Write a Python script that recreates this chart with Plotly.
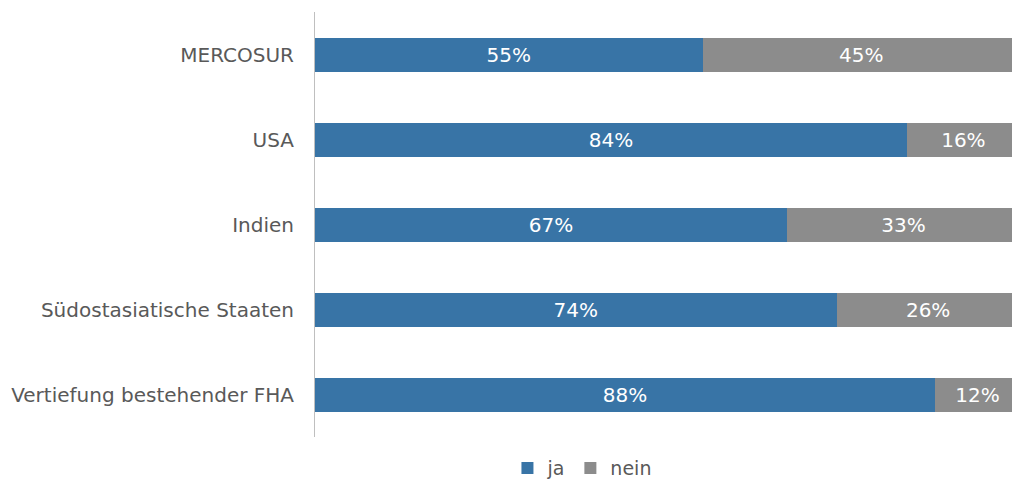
import plotly.graph_objects as go

categories = ["MERCOSUR", "USA", "Indien", "Südostasiatische Staaten", "Vertiefung bestehender FHA"]
ja = [55, 84, 67, 74, 88]
nein = [45, 16, 33, 26, 12]

BLUE = "#3874A6"
GREY = "#8C8C8C"
FONT = "DejaVu Sans"

fig = go.Figure()
fig.add_trace(go.Bar(
    y=categories, x=ja, name="ja", orientation="h",
    marker=dict(color=BLUE, line=dict(width=0)),
    text=[f"{v}%" for v in ja], textposition="inside", insidetextanchor="middle",
    textfont=dict(color="white", size=20, family=FONT), constraintext="none",
    width=0.4,
))
fig.add_trace(go.Bar(
    y=categories, x=nein, name="nein", orientation="h",
    marker=dict(color=GREY, line=dict(width=0)),
    text=[f"{v}%" for v in nein], textposition="inside", insidetextanchor="middle",
    textfont=dict(color="white", size=20, family=FONT), constraintext="none",
    width=0.4,
))

fig.update_layout(
    width=1012, height=479,
    barmode="stack",
    plot_bgcolor="white", paper_bgcolor="white",
    margin=dict(l=315, r=0, t=12, b=42, autoexpand=False),
    font=dict(family=FONT, color="#595959", size=20),
    showlegend=True,
    legend=dict(orientation="h", x=0.383, xref="paper", xanchor="center",
                y=-0.073, yanchor="middle", font=dict(size=19, color="#595959"),
                itemwidth=30, traceorder="normal"),
)
fig.update_xaxes(range=[0, 98.9], showgrid=False, showticklabels=False, zeroline=False,
                 showline=False, fixedrange=True)
fig.update_yaxes(autorange="reversed", showgrid=False, showline=True, linecolor="#BFBFBF",
                 linewidth=1, ticks="outside", ticklen=16, tickcolor="rgba(0,0,0,0)",
                 tickfont=dict(size=20, color="#595959", family=FONT))

fig.write_html("out.html", config={"displayModeBar": False},
               post_script="document.body.style.margin='0';document.body.style.overflow='hidden';")
